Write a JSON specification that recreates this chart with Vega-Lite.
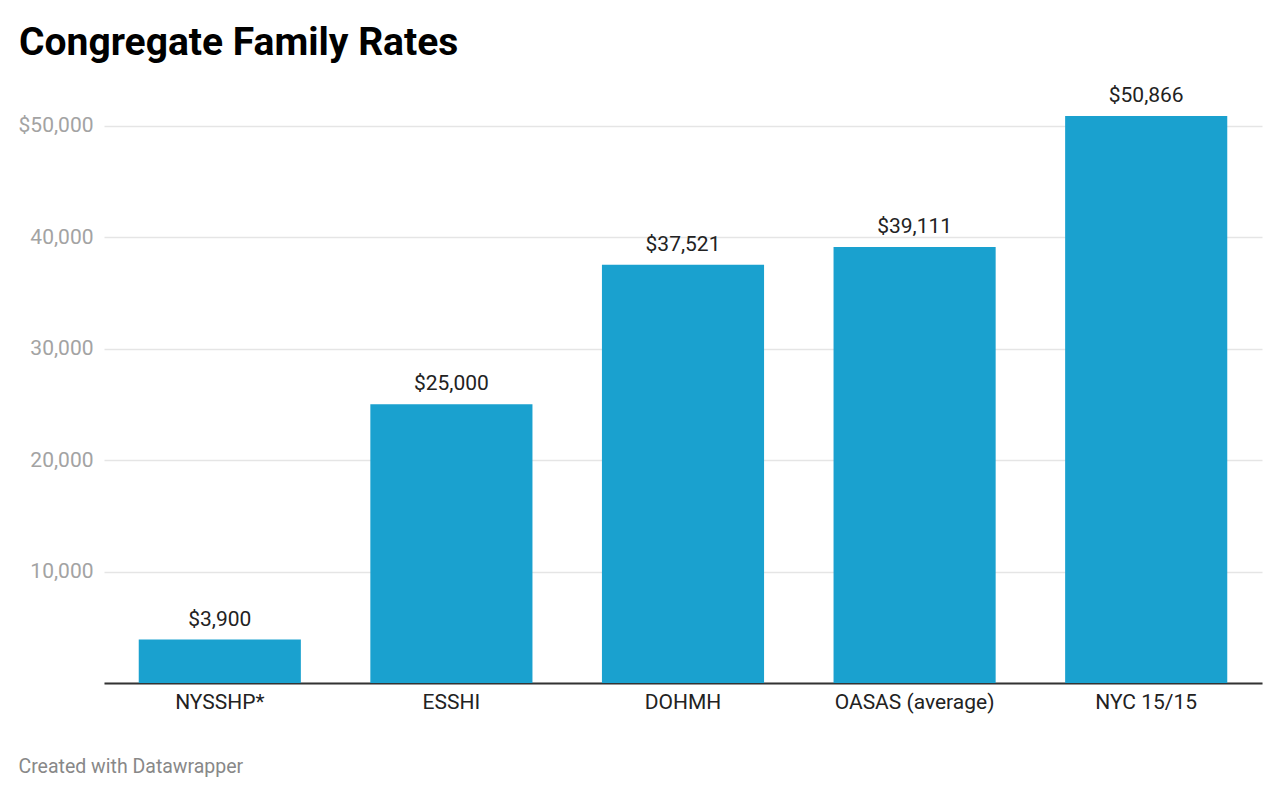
{
  "$schema": "https://vega.github.io/schema/vega-lite/v6.json",
  "autosize": "none",
  "width": 1158,
  "height": 567,
  "padding": {"left": 104, "top": 116, "right": 5, "bottom": 112},
  "background": "white",
  "config": {"view": {"stroke": null}, "font": "Roboto"},
  "title": {
    "text": "Congregate Family Rates",
    "anchor": "start",
    "frame": "group",
    "dx": -85,
    "offset": 22,
    "fontSize": 39,
    "fontWeight": "bold",
    "font": "Roboto",
    "color": "#000000"
  },
  "data": {
    "values": [
      {"program": "NYSSHP*", "rate": 3900},
      {"program": "ESSHI", "rate": 25000},
      {"program": "DOHMH", "rate": 37521},
      {"program": "OASAS (average)", "rate": 39111},
      {"program": "NYC 15/15", "rate": 50866}
    ]
  },
  "encoding": {
    "x": {
      "field": "program",
      "type": "nominal",
      "sort": null,
      "scale": {"paddingInner": 0.3, "paddingOuter": 0.15},
      "axis": {
        "labelAngle": 0,
        "labelFontSize": 21,
        "labelColor": "#222222",
        "labelPadding": 8,
        "ticks": false,
        "domainColor": "#333333",
        "domainWidth": 2,
        "title": "Created with Datawrapper",
        "titleAnchor": "start",
        "titleAlign": "left",
        "titleX": -86,
        "titleY": 74,
        "titleFontSize": 19.5,
        "titleFontWeight": "normal",
        "titleColor": "#888888"
      }
    },
    "y": {
      "field": "rate",
      "type": "quantitative",
      "scale": {"domain": [0, 50866], "nice": false},
      "axis": {
        "values": [0, 10000, 20000, 30000, 40000, 50000],
        "labelExpr": "datum.value == 0 ? '' : (datum.value == 50000 ? '$50,000' : format(datum.value, ','))",
        "labelFontSize": 21,
        "labelColor": "#a3a3a3",
        "labelPadding": 11,
        "ticks": false,
        "domain": false,
        "gridColor": "#e5e5e5",
        "gridWidth": 1.5,
        "title": null
      }
    }
  },
  "layer": [
    {"mark": {"type": "bar", "color": "#1aa1cf"}},
    {
      "mark": {"type": "text", "dy": -10, "baseline": "bottom", "fontSize": 21, "color": "#222222"},
      "encoding": {"text": {"field": "rate", "type": "quantitative", "format": "$,"}}
    }
  ]
}
